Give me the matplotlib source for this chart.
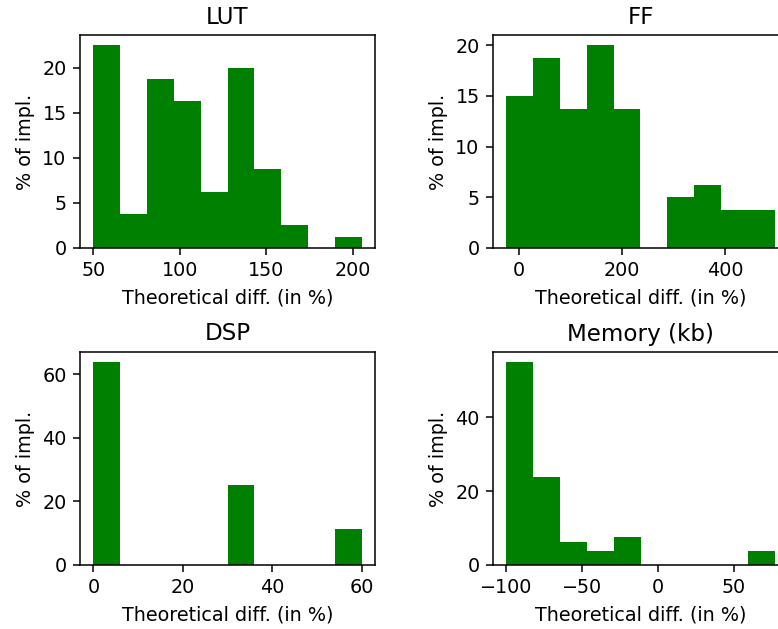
import numpy as np
import matplotlib
matplotlib.use("Agg")
import matplotlib.pyplot as plt

titles = ["LUT", "FF", "DSP", "Memory (kb)"]

# histogram ranges (min, max of the data) and bar heights in % of implementations (10 bins each)
lut_range = (50, 205)
lut_pct = [22.5, 3.75, 18.75, 16.25, 6.25, 20.0, 8.75, 2.5, 0.0, 1.25]

ff_range = (-25, 496)
ff_pct = [15.0, 18.75, 13.75, 20.0, 13.75, 0.0, 5.0, 6.25, 3.75, 3.75]

dsp_range = (0, 60)
dsp_pct = [63.75, 0.0, 0.0, 0.0, 0.0, 25.0, 0.0, 0.0, 0.0, 11.25]

mem_range = (-100, 77)
mem_pct = [55.0, 23.75, 6.25, 3.75, 7.5, 0.0, 0.0, 0.0, 0.0, 3.75]

xlabel = "Theoretical diff. (in %)"
ylabel = "% of impl."

W, H = 778, 629
DPI = 138
fig = plt.figure(figsize=(W / DPI, H / DPI), dpi=DPI)

# axes boxes in pixels: left, top, right, bottom
boxes = [(80, 35, 375, 248), (493, 35, 788, 248),
         (80, 352, 375, 565), (493, 352, 788, 565)]

data = [(lut_range, lut_pct), (ff_range, ff_pct), (dsp_range, dsp_pct), (mem_range, mem_pct)]

for (l, t, r, b), title, (rng, pct) in zip(boxes, titles, data):
    ax = fig.add_axes([l / W, 1 - b / H, (r - l) / W, (b - t) / H])
    edges = np.linspace(rng[0], rng[1], len(pct) + 1)
    centers = (edges[:-1] + edges[1:]) / 2
    ax.hist(centers, bins=edges, weights=pct, color="green")
    ax.set_title(title)
    ax.set_xlabel(xlabel)
    ax.set_ylabel(ylabel)

fig.savefig("out.png", dpi=DPI)
